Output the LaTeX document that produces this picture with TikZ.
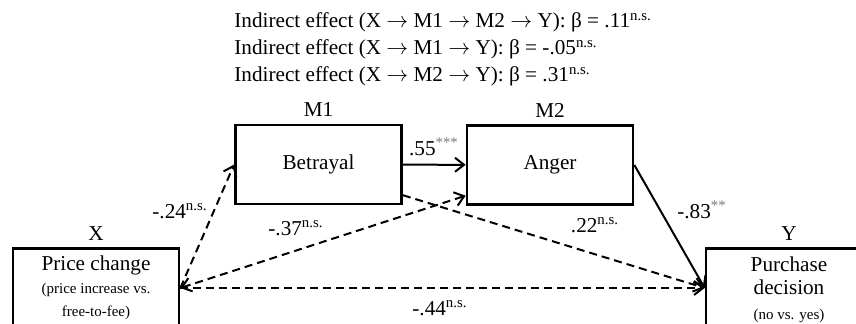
\documentclass[tikz,border=0pt]{standalone}
\usepackage{fontspec}
\setmainfont{Liberation Serif}
\usetikzlibrary{arrows.meta}
\definecolor{stargray}{HTML}{7A7A7A}
\newcommand{\nsig}{\textsuperscript{n.s.}}
\newcommand{\stars}[1]{\textsuperscript{\textcolor{stargray}{#1}}}
\newcommand{\smallfnt}{\fontsize{7.5}{8}\selectfont}
\newcommand{\arr}{$\rightarrow$}

\begin{document}
\begin{tikzpicture}[x=0.5pt,y=-0.5pt,font=\fontsize{10.6}{11.5}\selectfont,
    >={Straight Barb[length=4.5pt,width=7pt]},
    var/.style={draw,line width=1.35pt,minimum width=83pt,minimum height=39.5pt,inner sep=0pt,align=center},
    effect/.style={->,line width=1pt},
    weak/.style={effect,dash pattern=on 4pt off 2.5pt}]
    \clip (0,0) rectangle (856,324);
    \foreach \via/\coef [count=\i] in {X \arr{} M1 \arr{} M2 \arr{} Y/.11, X \arr{} M1 \arr{} Y/-.05, X \arr{} M2 \arr{} Y/.31}
      \node[anchor=base west,inner sep=0pt] (ind\i) at (234,1+27*\i) {Indirect effect (\via): β = \coef\nsig};
    \node[var,label=above:M1] (m1) at (318.5,164.5) {Betrayal};
    \node[var,label=above:M2] (m2) at (550,165) {Anger};
    \node[var,label=above:X] (x) at (96,288) {Price change\\\smallfnt (price increase vs.\\\smallfnt free-to-fee)};
    \node[var,label=above:Y] (y) at (789,288) {\rule{0pt}{9.5pt}Purchase\\decision\\[1pt]\smallfnt (no vs. yes)};
    \draw[effect] (m1) -- (m2);
    \draw[effect] (m2.east) -- (y.west);
    \draw[weak] (m1.-20) -- (y.west);
    \draw[weak] (x.east) -- (m1.west);
    \draw[weak,<->] (x.east) -- (m2.200);
    \draw[weak] (x) -- (y);
    \foreach \nm/\at/\txt in {b55/{(434,147)}/{.55\stars{***}}, b24/{(180,211)}/{-.24\nsig},
        b37/{(296,228)}/{-.37\nsig}, b22/{(595,225)}/{.22\nsig},
        b83/{(702,210)}/{-.83\stars{**}}, b44/{(440,308)}/{-.44\nsig}}
      \node (\nm) at \at {\txt};
  \end{tikzpicture}
\end{document}
